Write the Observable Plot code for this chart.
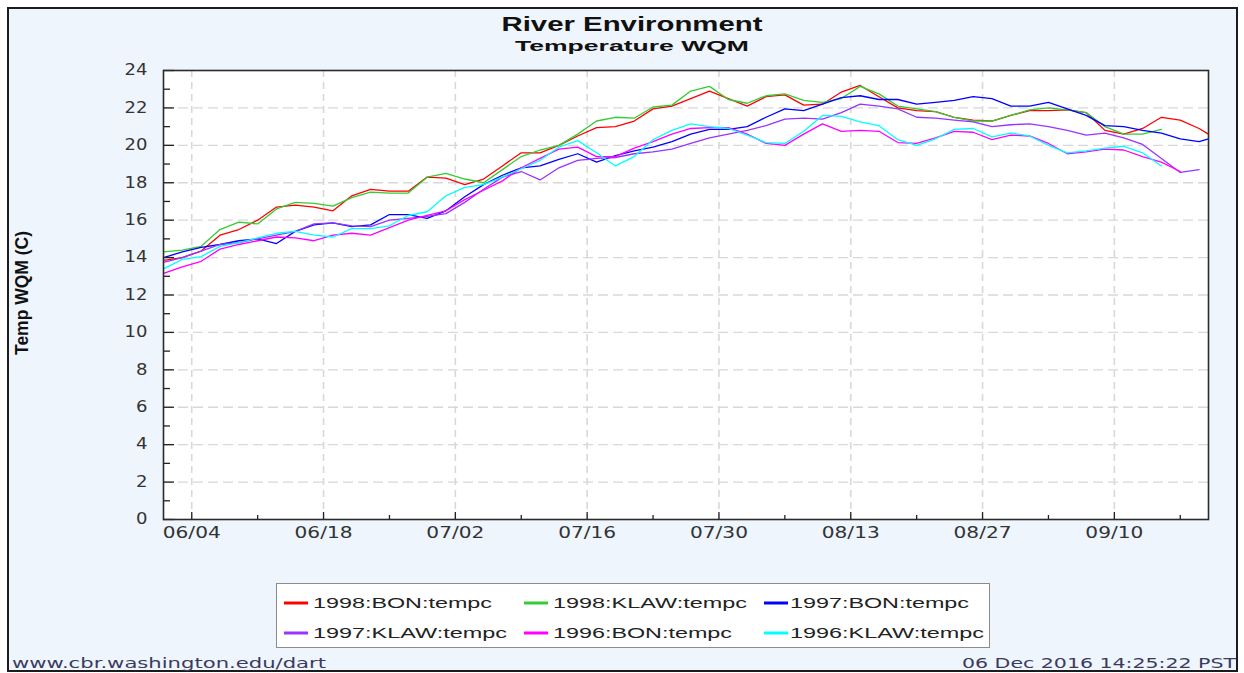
<!DOCTYPE html>
<html>
<head>
<meta charset="utf-8">
<script src="https://cdn.jsdelivr.net/npm/d3@7"></script>
<script src="https://cdn.jsdelivr.net/npm/@observablehq/plot@0.6"></script>
<style>
  html, body { margin: 0; padding: 0; background: #ffffff; }
  #root { position: relative; width: 1244px; height: 673px; overflow: hidden; background: #ffffff; }
  #panel { position: absolute; left: 7px; top: 7px; width: 1231px; height: 665px; box-sizing: border-box;
           border: 2px solid #1c1c1c; background: #eef5fd; }
  #head { position: absolute; left: 0; top: 0; }
  #chart { position: absolute; left: 0; top: 58px; }
  #foot { position: absolute; left: 0; top: 575px; }
</style>
</head>
<body>
<div id="root">
  <div id="panel"></div>
  <svg id="head" width="1244" height="58"></svg>
  <div id="chart"></div>
  <svg id="foot" width="1244" height="98"></svg>
</div>
<script>
// ---------------- data ----------------
const seriesNames = ["1998:BON:tempc", "1998:KLAW:tempc", "1997:BON:tempc",
                     "1997:KLAW:tempc", "1996:BON:tempc", "1996:KLAW:tempc"];
const seriesColors = ["#ff0000", "#33cc33", "#0000ff", "#9933ff", "#ff00ff", "#00ffff"];

const dates = ["06-01","06-03","06-05","06-07","06-09","06-11","06-13","06-15","06-17","06-19",
               "06-21","06-23","06-25","06-27","06-29","07-01","07-03","07-05","07-07","07-09",
               "07-11","07-13","07-15","07-17","07-19","07-21","07-23","07-25","07-27","07-29",
               "07-31","08-02","08-04","08-06","08-08","08-10","08-12","08-14","08-16","08-18",
               "08-20","08-22","08-24","08-26","08-28","08-30","09-01","09-03","09-05","09-07",
               "09-09","09-11","09-13","09-15","09-17","09-19","09-20"];

const temp1998BON = [13.85,14.0,14.35,15.2,15.5,16.0,16.7,16.8,16.7,16.5,
                     17.3,17.65,17.55,17.55,18.3,18.25,17.9,18.2,18.9,19.6,
                     19.6,20.0,20.5,20.95,21.0,21.3,21.95,22.1,22.5,22.9,
                     22.5,22.1,22.6,22.7,22.15,22.2,22.85,23.2,22.6,22.0,
                     21.85,21.8,21.5,21.35,21.3,21.6,21.85,21.85,21.9,21.75,
                     20.8,20.6,20.9,21.5,21.35,20.9,20.6];
const temp1998KLAW = [14.3,14.4,14.6,15.5,15.9,15.8,16.6,16.95,16.9,16.75,
                      17.2,17.5,17.45,17.45,18.3,18.5,18.2,18.0,18.7,19.4,
                      19.75,20.0,20.6,21.3,21.5,21.45,22.05,22.15,22.9,23.15,
                      22.45,22.25,22.65,22.75,22.4,22.3,22.5,23.15,22.75,22.1,
                      21.95,21.8,21.5,21.3,21.3,21.6,21.9,22.0,21.9,21.75,
                      21.0,20.6,20.6,20.85,null,null,null];
const temp1997BON = [14.0,14.3,14.55,14.7,14.9,15.0,14.75,15.4,15.75,15.85,
                     15.65,15.75,16.3,16.3,16.1,16.5,17.25,17.9,18.4,18.8,
                     18.9,19.25,19.55,19.1,19.45,19.7,19.9,20.2,20.6,20.85,
                     20.85,21.0,21.5,21.95,21.85,22.2,22.55,22.65,22.45,22.45,
                     22.2,22.3,22.4,22.6,22.5,22.1,22.1,22.3,21.95,21.6,
                     21.05,21.0,20.8,20.65,20.35,20.2,20.35];
const temp1997KLAW = [13.75,14.0,14.35,14.7,14.8,15.0,15.2,15.4,15.8,15.85,
                      15.7,15.65,16.0,16.1,16.2,16.35,16.95,17.65,18.3,18.6,
                      18.15,18.8,19.2,19.3,19.35,19.55,19.65,19.8,20.1,20.4,
                      20.6,20.8,21.05,21.4,21.45,21.4,21.75,22.2,22.1,21.95,
                      21.5,21.45,21.35,21.25,21.0,21.1,21.15,21.0,20.8,20.55,
                      20.65,20.4,20.05,19.3,18.55,18.7,null];
const temp1996BON = [13.15,13.5,13.8,14.45,14.7,14.9,15.1,15.05,14.9,15.2,
                     15.3,15.2,15.6,16.0,16.25,16.5,17.1,17.6,18.1,18.8,
                     19.3,19.8,19.9,19.4,19.4,19.85,20.2,20.6,20.9,20.95,
                     20.95,20.6,20.1,20.0,20.6,21.15,20.75,20.8,20.75,20.15,
                     20.1,20.4,20.75,20.7,20.3,20.55,20.5,20.1,19.55,19.65,
                     19.8,19.75,19.4,19.1,18.6,null,null];
const temp1996KLAW = [13.4,13.9,14.05,14.6,14.8,15.05,15.3,15.4,15.2,15.1,
                      15.55,15.55,15.7,16.25,16.45,17.3,17.75,17.9,18.3,18.75,
                      19.2,19.9,20.25,19.6,18.9,19.4,20.3,20.8,21.15,21.0,
                      20.9,20.55,20.15,20.1,20.75,21.6,21.55,21.25,21.05,20.3,
                      20.0,20.35,20.85,20.9,20.45,20.65,20.5,20.0,19.6,19.7,
                      19.85,19.95,19.6,18.9,null,null,null];
const seriesValues = [temp1998BON, temp1998KLAW, temp1997BON, temp1997KLAW, temp1996BON, temp1996KLAW];

const xDomain = ["06-01", "09-20"];
const xMajorTicks = ["06-04","06-18","07-02","07-16","07-30","08-13","08-27","09-10"];
const xMinorTicks = ["06-11","06-25","07-09","07-23","08-06","08-20","09-03","09-17"];
const yMajorTicks = [0,2,4,6,8,10,12,14,16,18,20,22,24];
const yMinorTicks = [1,3,5,7,9,11,13,15,17,19,21,23];
const yGridLines = [2,4,6,8,10,12,14,16,18,20,22];

const titleText = "River Environment";
const subtitleText = "Temperature WQM";
const yLabelText = "Temp WQM (C)";
const footLeftText = "www.cbr.washington.edu/dart";
const footRightText = "06 Dec 2016 14:25:22 PST";

// ---------------- build ----------------
const parseDay = s => new Date(`1998-${s}T00:00:00Z`);
const rows = [];
seriesNames.forEach((name, i) => {
  seriesValues[i].forEach((v, j) => rows.push({date: parseDay(dates[j]), value: v, series: name}));
});

const W = 1244, H = 502, mT = 12, mB = 41, mL = 163, mR = 36;
const innerW = W - mL - mR, innerH = H - mT - mB;
const xMaj = xMajorTicks.map(parseDay), xMin = xMinorTicks.map(parseDay);

const chart = Plot.plot({
  width: W, height: H,
  marginTop: mT, marginBottom: mB, marginLeft: mL, marginRight: mR,
  style: {background: "transparent", fontFamily: "DejaVu Sans", fontSize: "15px", color: "#333"},
  x: {type: "utc", domain: xDomain.map(parseDay), label: null},
  y: {domain: [0, 24], label: null},
  color: {domain: seriesNames, range: seriesColors},
  marks: [
    Plot.frame({fill: "white", stroke: null}),
    Plot.ruleY(yGridLines, {y: d => d, stroke: "#d8d8d8", strokeWidth: 1.3, strokeDasharray: "10,5"}),
    Plot.ruleX(xMaj, {x: d => d, stroke: "#d8d8d8", strokeWidth: 1.6, strokeDasharray: "7,5"}),
    Plot.line(rows, {x: "date", y: "value", z: "series", stroke: "series", strokeWidth: 1.3}),
    Plot.tickY(yMajorTicks, {y: d => d, insetRight: innerW - 11, stroke: "#222", strokeWidth: 1.3}),
    Plot.tickY(yMinorTicks, {y: d => d, insetRight: innerW - 7, stroke: "#222", strokeWidth: 1.3}),
    Plot.tickX(xMaj, {x: d => d, insetTop: innerH - 7, stroke: "#222", strokeWidth: 1.3}),
    Plot.tickX(xMin, {x: d => d, insetTop: innerH - 4, stroke: "#222", strokeWidth: 1.3}),
    Plot.frame({stroke: "#2a2a2a", strokeWidth: 1.6}),
    Plot.axisX({ticks: xMaj, tickFormat: d3.utcFormat("%m/%d"), tickSize: 0, tickPadding: 8, label: null}),
    Plot.axisY({ticks: yMajorTicks, tickSize: 0, tickPadding: 16, label: null})
  ]
});
document.getElementById("chart").append(chart);

// stretch tick labels horizontally like the reference
chart.querySelectorAll('g[aria-label="x-axis tick label"] text').forEach(t => {
  t.setAttribute("textLength", 58);
  t.setAttribute("lengthAdjust", "spacingAndGlyphs");
});
chart.querySelectorAll('g[aria-label="y-axis tick label"] text').forEach(t => {
  const w = t.getComputedTextLength();
  t.setAttribute("textLength", (w * 1.2).toFixed(1));
  t.setAttribute("lengthAdjust", "spacingAndGlyphs");
});

// y axis title (rotated)
d3.select(chart).append("text")
  .attr("transform", `translate(22,${293 - 58}) scale(1.35,1) rotate(-90)`)
  .attr("text-anchor", "middle").attr("dy", "0.36em")
  .attr("font-family", "Liberation Sans, Arial, sans-serif").attr("font-weight", "bold")
  .attr("font-size", 13).attr("fill", "#111")
  .attr("textLength", 124).attr("lengthAdjust", "spacingAndGlyphs")
  .text(yLabelText);

// title / subtitle
const head = d3.select("#head");
head.append("text").attr("x", 632).attr("y", 31).attr("text-anchor", "middle")
  .attr("font-family", "Liberation Sans, Arial, sans-serif").attr("font-weight", "bold")
  .attr("font-size", 21).attr("fill", "#111")
  .attr("textLength", 261).attr("lengthAdjust", "spacingAndGlyphs").text(titleText);
head.append("text").attr("x", 632).attr("y", 51).attr("text-anchor", "middle")
  .attr("font-family", "Liberation Sans, Arial, sans-serif").attr("font-weight", "bold")
  .attr("font-size", 15.5).attr("fill", "#111")
  .attr("textLength", 234).attr("lengthAdjust", "spacingAndGlyphs").text(subtitleText);

// legend + footer
const foot = d3.select("#foot");
foot.append("rect").attr("x", 276.5).attr("y", 8.5).attr("width", 713).attr("height", 64)
  .attr("fill", "white").attr("stroke", "#8c8c8c");
const colX = [284, 524, 764], textX = [313, 553, 790], rowY = [28, 58];
seriesNames.forEach((name, i) => {
  const c = i % 3, r = Math.floor(i / 3);
  foot.append("line").attr("x1", colX[c]).attr("x2", colX[c] + 24)
    .attr("y1", rowY[r]).attr("y2", rowY[r])
    .attr("stroke", seriesColors[i]).attr("stroke-width", 3);
  foot.append("text").attr("x", textX[c]).attr("y", rowY[r] + 5)
    .attr("font-family", "Liberation Sans, Arial, sans-serif").attr("font-size", 14).attr("fill", "#222")
    .attr("textLength", name.includes("KLAW") ? 194 : 179).attr("lengthAdjust", "spacingAndGlyphs")
    .text(name);
});
foot.append("text").attr("x", 12).attr("y", 93)
  .attr("font-family", "DejaVu Sans, sans-serif").attr("font-size", 14).attr("fill", "#3b3b5c")
  .attr("textLength", 314).attr("lengthAdjust", "spacingAndGlyphs").text(footLeftText);
foot.append("text").attr("x", 1236).attr("y", 93).attr("text-anchor", "end")
  .attr("font-family", "DejaVu Sans, sans-serif").attr("font-size", 14).attr("fill", "#3b3b5c")
  .attr("textLength", 274).attr("lengthAdjust", "spacingAndGlyphs").text(footRightText);
</script>
</body>
</html>
